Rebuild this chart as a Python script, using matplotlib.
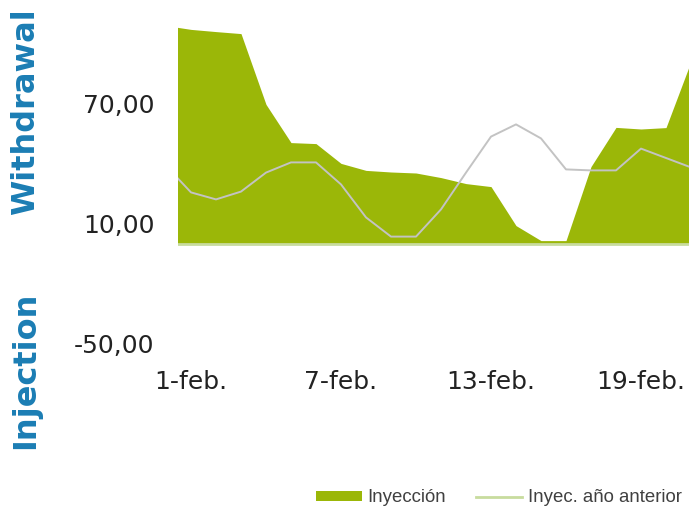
import matplotlib
matplotlib.use("Agg")
from matplotlib import pyplot as plt
from matplotlib.patches import Patch
from matplotlib.lines import Line2D

# dia de febrero (0 = 31-ene)
dias = list(range(0, 22))
inyeccion = [109.2, 107.3, 106.2, 105.2, 69.8, 50.7, 50.2, 40.3, 36.8, 36.0, 35.5,
             33.2, 30.2, 28.7, 9.2, 1.7, 1.7, 38.7, 58.3, 57.5, 58.2, 91.3]
anio_anterior = [39.1, 25.8, 22.3, 26.2, 35.7, 40.8, 40.8, 29.8, 13.3, 3.7, 3.7,
                 17.3, 35.7, 53.7, 59.8, 52.8, 37.3, 36.8, 36.8, 47.7, 43.0, 38.3]
tick_dias = [1, 7, 13, 19]
tick_labels = ["1-feb.", "7-feb.", "13-feb.", "19-feb."]
y_ticks = [70, 10, -50]

verde = "#9bb708"
verde_claro = "#c8dc9e"
gris = "#c3c3c3"
azul = "#1b7db4"

fig = plt.figure(figsize=(6.89, 5.07), dpi=100)
ax = fig.add_axes([178 / 689, 1 - 364 / 507, 1 - 178 / 689, 364 / 507])

ax.fill_between(dias, inyeccion, 0, color=verde, linewidth=0)
ax.axhline(0, color=verde_claro, linewidth=2)
ax.plot(dias, anio_anterior, color=gris, linewidth=1.4)

ax.set_xlim(0.48, 20.92)
ax.set_ylim(-60, 122)
ax.set_xticks(tick_dias)
ax.set_xticklabels(tick_labels)
ax.set_yticks(y_ticks)
ax.set_yticklabels(["%d,00" % v for v in y_ticks])
ax.tick_params(axis="both", length=0, labelsize=18, colors="#222222")
ax.tick_params(axis="y", pad=17)
ax.tick_params(axis="x", pad=4)
for s in ax.spines.values():
    s.set_visible(False)

fig.text(26 / 689, 1 - 112 / 507, "Withdrawal", rotation=90, ha="center", va="center",
         fontsize=23, fontweight="bold", color=azul)
fig.text(26 / 689, 1 - 370 / 507, "Injection", rotation=90, ha="center", va="center",
         fontsize=23, fontweight="bold", color=azul)

handles = [Patch(facecolor=verde, edgecolor="none"),
           Line2D([], [], color=verde_claro, linewidth=2)]
fig.legend(handles, ["Inyección", "Inyec. año anterior"], loc="center",
           bbox_to_anchor=(498.5 / 689, 1 - 498 / 507), ncol=2, frameon=False,
           prop={"family": "Liberation Sans", "size": 13.4}, labelcolor="#404040",
           handlelength=2.5, handleheight=0.45, handletextpad=0.28,
           columnspacing=1.6, borderpad=0, borderaxespad=0)

fig.savefig("out.png", dpi=100)
